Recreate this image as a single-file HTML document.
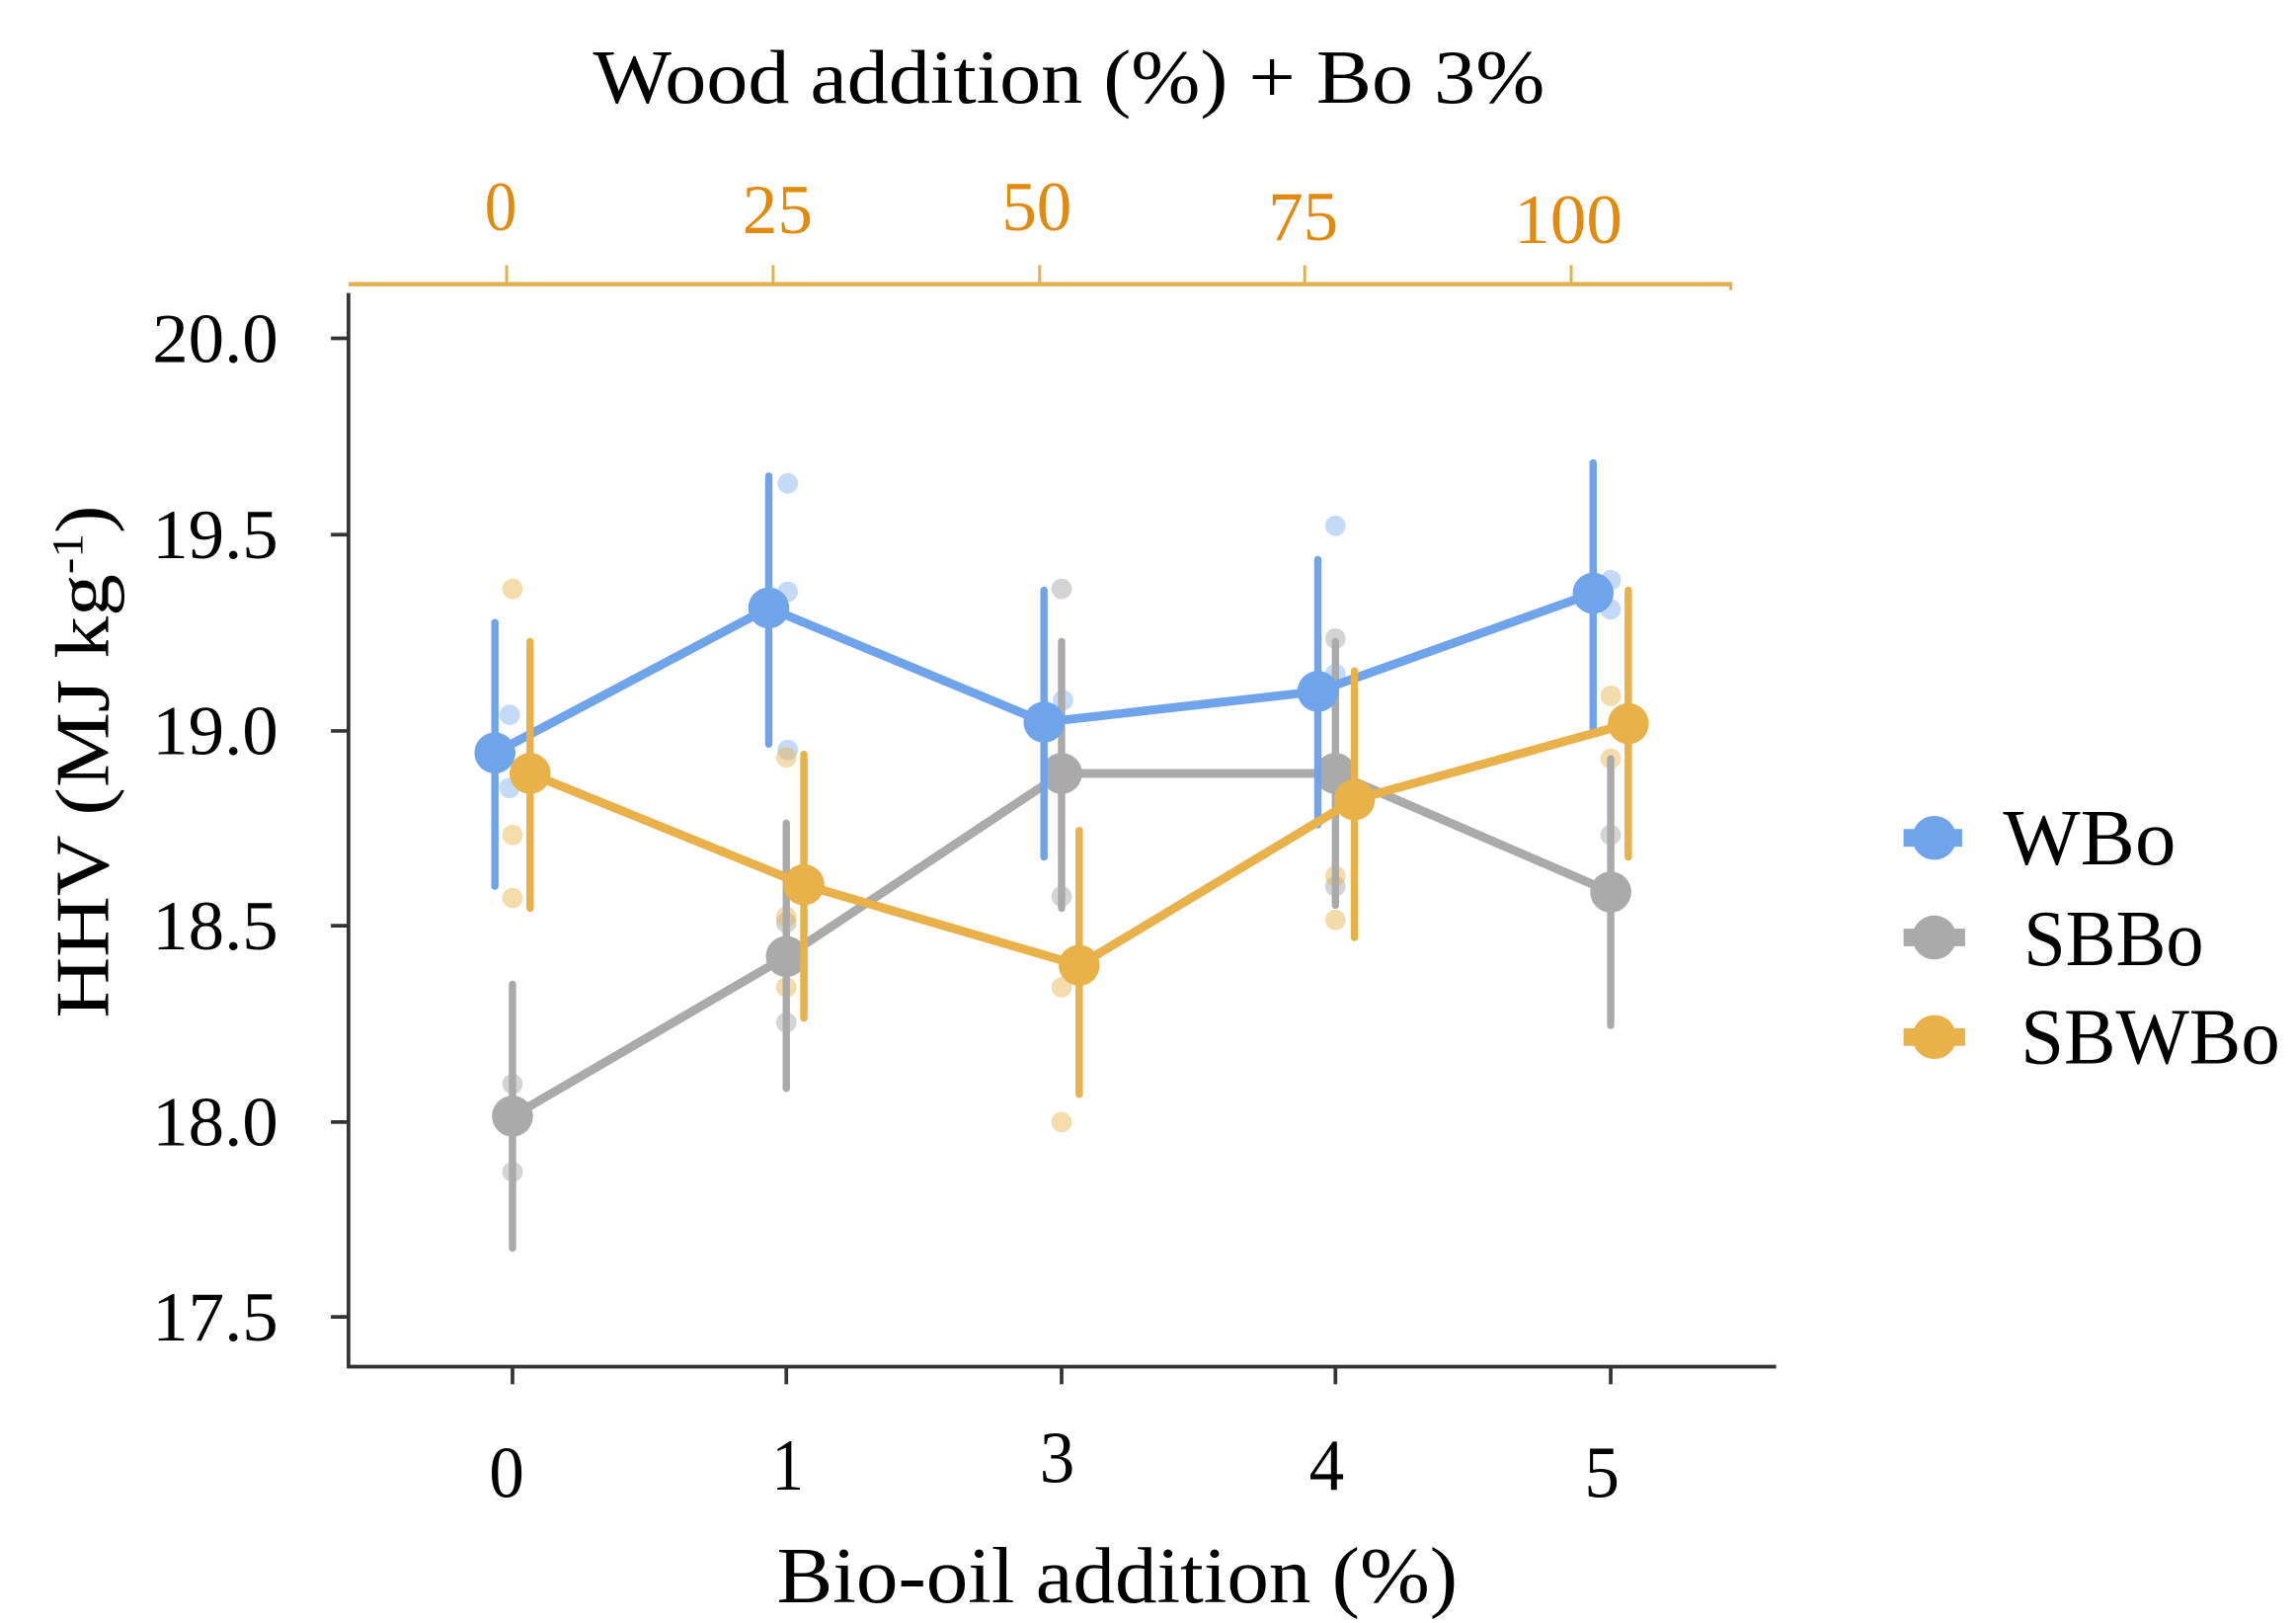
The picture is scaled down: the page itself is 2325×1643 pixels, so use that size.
<!DOCTYPE html>
<html><head><meta charset="utf-8"><style>
html,body{margin:0;padding:0;background:#fff;width:2325px;height:1643px;overflow:hidden}
svg{display:block}
text{font-family:"Liberation Serif",serif}
</style></head><body>
<svg width="2325" height="1643" viewBox="0 0 1568 1108" preserveAspectRatio="none" xmlns="http://www.w3.org/2000/svg">
<text x="730" y="70" font-size="52" text-anchor="middle" textLength="650" lengthAdjust="spacingAndGlyphs" fill="#000">Wood addition (%) + Bo 3%</text>
<line x1="238" y1="194" x2="1183" y2="194" stroke="#e3b04b" stroke-width="3"/>
<line x1="1182" y1="194" x2="1182" y2="198" stroke="#e3b04b" stroke-width="2"/>
<g stroke="#e3b04b" stroke-width="2">
<line x1="346" y1="181" x2="346" y2="194"/><line x1="528" y1="181" x2="528" y2="194"/>
<line x1="710" y1="181" x2="710" y2="194"/><line x1="891" y1="181" x2="891" y2="194"/>
<line x1="1073" y1="181" x2="1073" y2="194"/></g>
<g font-size="48" text-anchor="middle" style="fill:#e08a10">
<text x="342" y="157" textLength="22" lengthAdjust="spacingAndGlyphs">0</text>
<text x="531" y="159" textLength="48" lengthAdjust="spacingAndGlyphs">25</text>
<text x="708" y="157" textLength="48" lengthAdjust="spacingAndGlyphs">50</text>
<text x="890" y="164" textLength="48" lengthAdjust="spacingAndGlyphs">75</text>
<text x="1071" y="166" textLength="74" lengthAdjust="spacingAndGlyphs">100</text>
</g>
<line x1="238" y1="200" x2="238" y2="934" stroke="#333" stroke-width="2.5"/>
<line x1="237" y1="933" x2="1213" y2="933" stroke="#333" stroke-width="2.5"/>
<g stroke="#333" stroke-width="2.5">
<line x1="226" y1="231" x2="238" y2="231"/><line x1="226" y1="365" x2="238" y2="365"/>
<line x1="226" y1="499" x2="238" y2="499"/><line x1="226" y1="632" x2="238" y2="632"/>
<line x1="226" y1="766" x2="238" y2="766"/><line x1="226" y1="899" x2="238" y2="899"/>
<line x1="350" y1="933" x2="350" y2="945"/><line x1="537" y1="933" x2="537" y2="945"/>
<line x1="725" y1="933" x2="725" y2="945"/><line x1="912" y1="933" x2="912" y2="945"/>
<line x1="1100" y1="933" x2="1100" y2="945"/></g>
<g font-size="48" text-anchor="end" fill="#000">
<text x="190" y="247" textLength="86" lengthAdjust="spacingAndGlyphs">20.0</text>
<text x="190" y="381" textLength="86" lengthAdjust="spacingAndGlyphs">19.5</text>
<text x="190" y="515" textLength="86" lengthAdjust="spacingAndGlyphs">19.0</text>
<text x="190" y="648" textLength="86" lengthAdjust="spacingAndGlyphs">18.5</text>
<text x="190" y="782" textLength="86" lengthAdjust="spacingAndGlyphs">18.0</text>
<text x="190" y="915" textLength="86" lengthAdjust="spacingAndGlyphs">17.5</text>
</g>
<g font-size="50" text-anchor="middle" fill="#000">
<text x="346" y="1022" textLength="24" lengthAdjust="spacingAndGlyphs">0</text>
<text x="538" y="1017" textLength="22" lengthAdjust="spacingAndGlyphs">1</text>
<text x="722" y="1012" textLength="24" lengthAdjust="spacingAndGlyphs">3</text>
<text x="906" y="1017" textLength="24" lengthAdjust="spacingAndGlyphs">4</text>
<text x="1094" y="1022" textLength="24" lengthAdjust="spacingAndGlyphs">5</text>
</g>
<text x="763" y="1094" font-size="54" text-anchor="middle" textLength="465" lengthAdjust="spacingAndGlyphs" fill="#000">Bio-oil addition (%)</text>
<text transform="translate(74,520) rotate(-90)" font-size="52" text-anchor="middle" textLength="350" lengthAdjust="spacingAndGlyphs" fill="#000">HHV (MJ kg<tspan font-size="30" dy="-18">-1</tspan><tspan dy="18">)</tspan></text>

<g fill="#6fa3ea" opacity="0.4">
<circle cx="348" cy="488" r="7"/><circle cx="348" cy="538" r="7"/>
<circle cx="538" cy="330" r="7"/><circle cx="538" cy="404" r="7"/><circle cx="538" cy="512" r="7"/>
<circle cx="726" cy="478" r="7"/><circle cx="726" cy="533" r="7"/>
<circle cx="912" cy="359" r="7"/><circle cx="912" cy="460" r="7"/>
<circle cx="1100" cy="396" r="7"/><circle cx="1100" cy="416" r="7"/>
</g>
<g fill="#aaaaaa" opacity="0.5">
<circle cx="350" cy="740" r="7"/><circle cx="350" cy="800" r="7"/>
<circle cx="537" cy="630" r="7"/><circle cx="537" cy="698" r="7"/>
<circle cx="725" cy="402" r="7"/><circle cx="725" cy="612" r="7"/>
<circle cx="912" cy="436" r="7"/><circle cx="912" cy="605" r="7"/>
<circle cx="1100" cy="570" r="7"/>
</g>
<g fill="#e8b14a" opacity="0.45">
<circle cx="350" cy="402" r="7"/><circle cx="350" cy="570" r="7"/><circle cx="350" cy="613" r="7"/>
<circle cx="537" cy="517" r="7"/><circle cx="537" cy="626" r="7"/><circle cx="537" cy="674" r="7"/>
<circle cx="725" cy="674" r="7"/><circle cx="725" cy="766" r="7"/>
<circle cx="912" cy="598" r="7"/><circle cx="912" cy="628" r="7"/>
<circle cx="1100" cy="475" r="7"/><circle cx="1100" cy="518" r="7"/>
</g>

<g stroke="#aaaaaa" stroke-width="5" stroke-linecap="round" fill="none">
<polyline points="350,762 537,653 725,528 912,528 1100,609" stroke-width="6"/>
<line x1="350" y1="672" x2="350" y2="852"/><line x1="537" y1="562" x2="537" y2="743"/>
<line x1="725" y1="438" x2="725" y2="620"/><line x1="912" y1="438" x2="912" y2="618"/>
<line x1="1100" y1="518" x2="1100" y2="700"/></g>
<g fill="#aaaaaa"><circle cx="350" cy="762" r="14"/><circle cx="537" cy="653" r="14"/>
<circle cx="725" cy="528" r="14"/><circle cx="912" cy="528" r="14"/><circle cx="1100" cy="609" r="14"/></g>

<g stroke="#6fa3ea" stroke-width="5" stroke-linecap="round" fill="none">
<polyline points="338,514 525,415 713,493 900,472 1088,405" stroke-width="6"/>
<line x1="338" y1="425" x2="338" y2="605"/><line x1="525" y1="325" x2="525" y2="508"/>
<line x1="713" y1="403" x2="713" y2="585"/><line x1="900" y1="382" x2="900" y2="563"/>
<line x1="1088" y1="316" x2="1088" y2="497"/></g>
<g fill="#6fa3ea"><circle cx="338" cy="514" r="14"/><circle cx="525" cy="415" r="14"/>
<circle cx="713" cy="493" r="14"/><circle cx="900" cy="472" r="14"/><circle cx="1088" cy="405" r="14"/></g>

<g stroke="#e8b14a" stroke-width="5" stroke-linecap="round" fill="none">
<polyline points="362,528 549,604 737,659 925,546 1112,494" stroke-width="6"/>
<line x1="362" y1="438" x2="362" y2="620"/><line x1="549" y1="515" x2="549" y2="695"/>
<line x1="737" y1="567" x2="737" y2="747"/><line x1="925" y1="458" x2="925" y2="640"/>
<line x1="1112" y1="403" x2="1112" y2="585"/></g>
<g fill="#e8b14a"><circle cx="362" cy="528" r="14"/><circle cx="549" cy="604" r="14"/>
<circle cx="737" cy="659" r="14"/><circle cx="925" cy="546" r="14"/><circle cx="1112" cy="494" r="14"/></g>

<g stroke-width="12">
<line x1="1300" y1="572" x2="1340" y2="572" stroke="#6fa3ea"/>
<line x1="1300" y1="640" x2="1342" y2="640" stroke="#aaaaaa"/>
<line x1="1300" y1="708" x2="1342" y2="708" stroke="#e8b14a"/></g>
<circle cx="1321" cy="572" r="15" fill="#6fa3ea"/>
<circle cx="1321" cy="640" r="15" fill="#aaaaaa"/>
<circle cx="1321" cy="708" r="15" fill="#e8b14a"/>
<g font-size="54" fill="#000">
<text x="1368" y="590" textLength="118" lengthAdjust="spacingAndGlyphs">WBo</text>
<text x="1382" y="659" textLength="123" lengthAdjust="spacingAndGlyphs">SBBo</text>
<text x="1380" y="726" textLength="177" lengthAdjust="spacingAndGlyphs">SBWBo</text>
</g>
</svg>
</body></html>
